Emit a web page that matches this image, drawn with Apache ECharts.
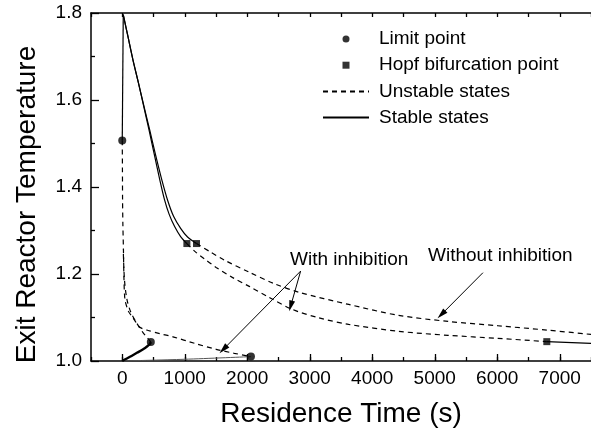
<!DOCTYPE html>
<html><head><meta charset="utf-8">
<script src="https://cdn.jsdelivr.net/npm/echarts@6/dist/echarts.min.js"></script>
<style>html,body{margin:0;padding:0;background:#fff}#c{width:591px;height:433px}</style>
</head><body><div id="c"></div>
<script>
// ---- tick values ----
const xMajorTicks = [0, 1000, 2000, 3000, 4000, 5000, 6000, 7000];
const xMin = -500, xMax = 7500, yMin = 1.0, yMax = 1.8;

// ---- upper branches (both systems start from the same peak) ----
const riseX = [0, 16];
const riseT = [1.507, 1.796];
// Without inhibition (outer curve)
const outerStableX = [16, 91, 170, 258, 345, 441, 536, 632, 727, 823, 934, 1045, 1188];
const outerStableT = [1.796, 1.746, 1.693, 1.640, 1.587, 1.530, 1.472, 1.417, 1.369, 1.332, 1.305, 1.285, 1.270];
const outerUnstableX = [1188, 1395, 1634, 2032, 2429, 2827, 3623, 4418, 5214, 6009, 6804, 7500];
const outerUnstableT = [1.270, 1.252, 1.232, 1.204, 1.178, 1.158, 1.130, 1.105, 1.091, 1.081, 1.071, 1.061];
// With inhibition (inner curve)
const innerStableX = [16, 91, 170, 258, 341, 430, 517, 600, 676, 751, 838, 934, 1034];
const innerStableT = [1.796, 1.746, 1.693, 1.640, 1.587, 1.530, 1.472, 1.417, 1.371, 1.337, 1.309, 1.286, 1.270];
const innerUnstableX = [1034, 1157, 1316, 1502, 1761, 2032, 2350, 2720, 3145, 3623, 4418, 5214, 6009, 6793];
const innerUnstableT = [1.270, 1.2526, 1.2347, 1.2152, 1.1922, 1.1715, 1.1463, 1.1187, 1.0992, 1.0843, 1.0682, 1.0590, 1.0521, 1.0445];
const innerTailX = [6793, 7500];
const innerTailT = [1.0445, 1.0406];

// ---- lower branches ----
const lowThinX = [0, 1000, 2059];
const lowThinT = [1.000, 1.004, 1.010];
const lowThickX = [0, 123, 234, 334, 401, 441, 457];
const lowThickT = [1.000, 1.0096, 1.0188, 1.0269, 1.0338, 1.039, 1.0436];

// ---- middle (unstable) branches ----
const midOuterX = [0, 3, 5, 10, 19, 27, 43, 99, 170, 282, 441, 600, 811, 1157, 1502, 1793, 2059];
const midOuterT = [1.507, 1.440, 1.371, 1.314, 1.2565, 1.1915, 1.1417, 1.1141, 1.0997, 1.0774, 1.0693, 1.0629, 1.0556, 1.0406, 1.0269, 1.0177, 1.0101];
const midInnerX = [457, 409, 329, 234, 138, 75, 35, 16];
const midInnerT = [1.0436, 1.0521, 1.0659, 1.0866, 1.1118, 1.1417, 1.1876, 1.2565];

// ---- special points ----
const limitX = [0, 457, 2059];
const limitT = [1.507, 1.0436, 1.0101];
const hopfX = [1034, 1188, 6793];
const hopfT = [1.270, 1.270, 1.0445];

// ---- annotation arrows (data coordinates: [x, T]) ----
const arrowWithFrom = [2854, 1.2067];
const arrowWithTo1 = [2695, 1.1263];
const arrowWithTo2 = [1618, 1.0269];
const arrowWithoutFrom = [5771, 1.203];
const arrowWithoutTo = [5107, 1.107];

const FONT = "'Liberation Sans', Arial, sans-serif";
const zip = (xs, ys) => xs.map((x, i) => [x, ys[i]]);

function lineSeries(name, xs, ys, opts) {
  opts = opts || {};
  return {
    name, type: 'line', data: zip(xs, ys), symbol: 'none', showSymbol: false,
    smooth: opts.smooth === undefined ? 0.3 : opts.smooth,
    lineStyle: { color: opts.color || '#000', width: opts.width || 1.2, type: opts.dash ? [5, 4] : 'solid' },
    itemStyle: { color: '#000' },
    silent: true, z: 3
  };
}
function arrow(from, to) {
  return [
    { coord: from, symbol: 'none' },
    { coord: to, symbol: 'triangle', symbolSize: [6, 11] }
  ];
}

const chart = echarts.init(document.getElementById('c'), null, { renderer: 'canvas' });
const axisCommon = { type: 'value', min: xMin, max: xMax, splitLine: { show: false } };
chart.setOption({
  animation: false,
  backgroundColor: '#fff',
  grid: { left: 91, top: 13, width: 503, height: 349, containLabel: false },
  legend: {
    orient: 'vertical', left: 322, top: 29, padding: 0,
    itemWidth: 46, itemHeight: 7, itemGap: 6.2,
    selectedMode: false,
    textStyle: { fontFamily: FONT, fontSize: 19, color: '#000', lineHeight: 20, padding: [0, 0, 0, 5] },
    data: [
      { name: 'Limit point' },
      { name: 'Hopf bifurcation point', icon: 'path://M0 0H10V10H0Z' },
      { name: 'Unstable states', itemStyle: { color: 'rgba(0,0,0,0)', borderWidth: 0 } },
      { name: 'Stable states', itemStyle: { color: 'rgba(0,0,0,0)', borderWidth: 0 } }
    ]
  },
  xAxis: [
    Object.assign({}, axisCommon, {
      position: 'bottom',
      name: 'Residence Time (s)', nameLocation: 'middle', nameGap: 39,
      nameTextStyle: { fontFamily: FONT, fontSize: 28, color: '#000' },
      axisLine: { show: true, onZero: false, lineStyle: { color: '#000', width: 1.5 } },
      axisTick: { show: true, inside: true, length: 7, customValues: xMajorTicks, lineStyle: { color: '#000', width: 1.3 } },
      axisLabel: { show: true, margin: 8, customValues: xMajorTicks, fontFamily: FONT, fontSize: 19, color: '#000', formatter: v => String(Math.round(v)) }
    }),
    Object.assign({}, axisCommon, {
      position: 'bottom', interval: 500,
      axisLine: { show: false, onZero: false },
      axisTick: { show: true, inside: true, length: 4, lineStyle: { color: '#000', width: 1.3 } },
      axisLabel: { show: false }
    }),
    Object.assign({}, axisCommon, {
      position: 'top', interval: 500,
      axisLine: { show: true, onZero: false, lineStyle: { color: '#000', width: 1.5 } },
      axisTick: { show: true, inside: true, length: 4, lineStyle: { color: '#000', width: 1.3 } },
      axisLabel: { show: false }
    })
  ],
  yAxis: {
    type: 'value', min: yMin, max: yMax, interval: 0.2,
    name: 'Exit Reactor Temperature', nameLocation: 'middle', nameGap: 50,
    nameTextStyle: { fontFamily: FONT, fontSize: 28, color: '#000', padding: [0, 35, 0, 0] },
    splitLine: { show: false },
    axisLine: { show: true, onZero: false, lineStyle: { color: '#000', width: 1.5 } },
    axisTick: { show: true, inside: true, length: 8, lineStyle: { color: '#000', width: 1.3 } },
    minorTick: { show: true, splitNumber: 2, length: 4, lineStyle: { color: '#000', width: 1.3 } },
    axisLabel: { margin: 9, fontFamily: FONT, fontSize: 19, color: '#000', formatter: v => v.toFixed(1) }
  },
  series: [
    lineSeries('Stable states', outerStableX, outerStableT),
    lineSeries('Stable states', riseX, riseT, { smooth: false }),
    lineSeries('Stable states', innerStableX, innerStableT),
    lineSeries('Stable states', innerTailX, innerTailT, { smooth: false }),
    lineSeries('Stable states', lowThinX, lowThinT, { color: '#555', width: 1 }),
    lineSeries('Stable states', lowThickX, lowThickT, { width: 2.4 }),
    lineSeries('Unstable states', outerUnstableX, outerUnstableT, { dash: true }),
    lineSeries('Unstable states', innerUnstableX, innerUnstableT, { dash: true }),
    lineSeries('Unstable states', midOuterX, midOuterT, { dash: true, smooth: 0.25 }),
    lineSeries('Unstable states', midInnerX, midInnerT, { dash: true }),
    {
      name: 'Limit point', type: 'scatter', data: zip(limitX, limitT),
      symbol: 'circle', symbolSize: 8, itemStyle: { color: '#000' }, z: 5, silent: true,
      markLine: {
        silent: true, symbol: ['none', 'triangle'],
        label: { show: false },
        lineStyle: { color: '#000', width: 1, type: 'solid' },
        emphasis: { disabled: true },
        data: [
          arrow(arrowWithFrom, arrowWithTo1),
          arrow(arrowWithFrom, arrowWithTo2),
          arrow(arrowWithoutFrom, arrowWithoutTo)
        ]
      }
    },
    {
      name: 'Hopf bifurcation point', type: 'scatter', data: zip(hopfX, hopfT),
      symbol: 'rect', symbolSize: 7, itemStyle: { color: '#000' }, z: 5, silent: true
    }
  ],
  graphic: [
    { type: 'text', left: 290, top: 250, style: { text: 'With inhibition', font: "19px " + FONT, fill: '#000' } },
    { type: 'text', left: 428, top: 246, style: { text: 'Without inhibition', font: "19px " + FONT, fill: '#000' } }
  ]
});
</script>
</body></html>
